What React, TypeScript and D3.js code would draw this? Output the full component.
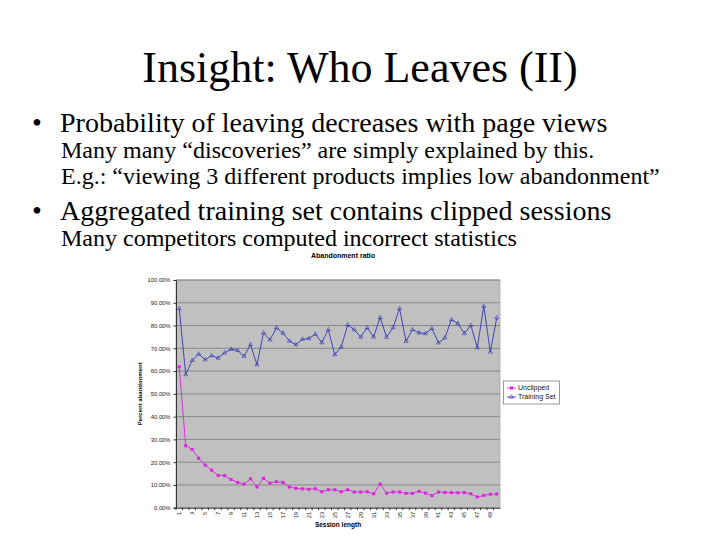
import React, { useRef, useEffect } from 'react';
import * as d3 from 'd3';

// Session lengths (x categories)
const sessionLengths = [
  1, 2, 3, 4, 5, 6, 7, 8, 9, 10, 11, 12, 13, 14, 15, 16, 17, 18, 19, 20, 21, 22, 23, 24, 25,
  26, 27, 28, 29, 30, 31, 32, 33, 34, 35, 36, 37, 38, 39, 40, 41, 42, 43, 44, 45, 46, 47, 48, 49, 50,
];

// Percent abandonment
const unclipped = [
  61.9, 27.2, 25.6, 21.7, 18.7, 16.5, 14.2, 14.1, 12.4, 11.1,
  10.4, 12.7, 9.1, 12.9, 10.8, 11.4, 11.1, 9.1, 8.5, 8.3,
  8.1, 8.3, 7.0, 7.9, 7.9, 7.0, 7.9, 6.9, 6.9, 7.0,
  6.1, 10.4, 6.4, 6.9, 6.9, 6.3, 6.3, 7.2, 6.4, 5.3,
  6.9, 6.7, 6.6, 6.6, 6.6, 6.1, 4.7, 5.4, 5.9, 6.0,
];

const trainingSet = [
  87.5, 58.5, 64.7, 67.5, 65.0, 66.8, 65.7, 68.0, 69.6, 69.1,
  66.5, 71.6, 62.8, 76.8, 73.7, 79.0, 76.7, 73.2, 71.6, 74.0,
  74.3, 76.2, 72.5, 78.2, 67.2, 70.6, 80.3, 78.2, 74.9, 79.0,
  75.0, 83.5, 74.9, 79.1, 87.5, 73.1, 78.2, 76.8, 76.5, 78.7,
  72.4, 74.6, 82.6, 80.9, 76.5, 80.1, 70.3, 88.5, 68.4, 83.4,
];

const yTicks = [0, 10, 20, 30, 40, 50, 60, 70, 80, 90, 100];
const seriesNames = ['Unclipped', 'Training Set'];

const bullets = [
  { level: 1, y: 132, text: 'Probability of leaving decreases with page views' },
  { level: 2, y: 158, text: 'Many many \u201cdiscoveries\u201d are simply explained by this.' },
  { level: 2, y: 184, text: 'E.g.: \u201cviewing 3 different products implies low abandonment\u201d' },
  { level: 1, y: 220, text: 'Aggregated training set contains clipped sessions' },
  { level: 2, y: 246, text: 'Many competitors computed incorrect statistics' },
];

export default function App() {
  const svgRef = useRef<SVGSVGElement>(null);

  useEffect(() => {
    if (!svgRef.current) return;
    const svg = d3.select(svgRef.current);
    svg.selectAll('*').remove();

    const serif = '"Liberation Serif", "Times New Roman", serif';
    const sans = '"Liberation Sans", Arial, sans-serif';

    svg.append('rect').attr('width', 720).attr('height', 540).attr('fill', 'white');

    // Slide title
    svg.append('text')
      .attr('x', 360)
      .attr('y', 82)
      .attr('text-anchor', 'middle')
      .attr('font-family', serif)
      .attr('font-size', '44px')
      .text('Insight: Who Leaves (II)');

    // Bullets
    bullets.forEach((b) => {
      if (b.level === 1) {
        svg.append('text')
          .attr('x', 32)
          .attr('y', b.y)
          .attr('font-family', serif)
          .attr('font-size', '28px')
          .text('\u2022');
        svg.append('text')
          .attr('x', 60)
          .attr('y', b.y)
          .attr('font-family', serif)
          .attr('font-size', '28px')
          .text(b.text);
      } else {
        svg.append('text')
          .attr('x', 61)
          .attr('y', b.y)
          .attr('font-family', serif)
          .attr('font-size', '24px')
          .text(b.text);
      }
    });

    // Chart
    const plot = { left: 176, right: 500, top: 280, bottom: 507.7 };

    const x = d3.scaleBand<number>()
      .domain(sessionLengths)
      .range([plot.left, plot.right]);
    const y = d3.scaleLinear().domain([0, 100]).range([plot.bottom, plot.top]);
    const cx = (d: number) => (x(d) as number) + x.bandwidth() / 2;

    svg.append('text')
      .attr('x', 343)
      .attr('y', 258)
      .attr('text-anchor', 'middle')
      .attr('font-family', sans)
      .attr('font-weight', 'bold')
      .attr('font-size', '7px')
      .text('Abandonment ratio');

    svg.append('rect')
      .attr('x', plot.left)
      .attr('y', plot.top)
      .attr('width', plot.right - plot.left)
      .attr('height', plot.bottom - plot.top)
      .attr('fill', '#c0c0c0')
      .attr('stroke', '#a8a8a8')
      .attr('stroke-width', 0.8);

    // Gridlines
    svg.append('g')
      .selectAll('line')
      .data(yTicks.filter((t) => t > 0))
      .join('line')
      .attr('x1', plot.left)
      .attr('x2', plot.right)
      .attr('y1', (d) => y(d))
      .attr('y2', (d) => y(d))
      .attr('stroke', '#7a7a7a')
      .attr('stroke-width', 0.8);

    // Y axis
    const yAxis = svg.append('g')
      .attr('transform', `translate(${plot.left}, 0)`)
      .call(d3.axisLeft(y).tickValues(yTicks).tickSize(2.5).tickPadding(3)
        .tickFormat((d) => `${(+d).toFixed(2)}%`));
    yAxis.select('.domain').attr('stroke', '#333');
    yAxis.selectAll('line').attr('stroke', '#333');
    yAxis.selectAll('text')
      .attr('font-family', sans)
      .attr('font-size', '5.8px')
      .attr('fill', '#222');

    // X axis
    const xAxis = svg.append('g')
      .attr('transform', `translate(0, ${plot.bottom})`)
      .call(d3.axisBottom(x).tickSize(0).tickPadding(3)
        .tickFormat((d) => ((+d) % 2 === 1 ? `${d}` : '')));
    xAxis.select('.domain').attr('stroke', '#333');
    xAxis.selectAll('text')
      .attr('font-family', sans)
      .attr('font-size', '5.8px')
      .attr('fill', '#222')
      .attr('text-anchor', 'end')
      .attr('dy', '0.35em')
      .attr('transform', 'translate(0, 3) rotate(-90)')
      .attr('y', 0)
      .attr('x', -1);
    // category boundary ticks
    xAxis.append('g')
      .selectAll('line')
      .data(sessionLengths)
      .join('line')
      .attr('x1', (d) => x(d) as number)
      .attr('x2', (d) => x(d) as number)
      .attr('y1', 0)
      .attr('y2', 2.5)
      .attr('stroke', '#333');

    svg.append('text')
      .attr('x', 338)
      .attr('y', 527)
      .attr('text-anchor', 'middle')
      .attr('font-family', sans)
      .attr('font-weight', 'bold')
      .attr('font-size', '6.5px')
      .text('Session length');

    svg.append('text')
      .attr('transform', `translate(142, ${(plot.top + plot.bottom) / 2}) rotate(-90)`)
      .attr('text-anchor', 'middle')
      .attr('font-family', sans)
      .attr('font-weight', 'bold')
      .attr('font-size', '6px')
      .text('Percent abandonment');

    // Series
    const line = d3.line<number>()
      .x((_, i) => cx(sessionLengths[i]))
      .y((d) => y(d));

    const pink = '#e020e0';
    const blue = '#3535b5';

    svg.append('path')
      .datum(trainingSet)
      .attr('d', line)
      .attr('fill', 'none')
      .attr('stroke', blue)
      .attr('stroke-width', 0.9);

    const tri = d3.symbol().type(d3.symbolTriangle).size(7);
    svg.append('g')
      .selectAll('path')
      .data(trainingSet)
      .join('path')
      .attr('d', tri)
      .attr('transform', (d, i) => `translate(${cx(sessionLengths[i])}, ${y(d)})`)
      .attr('fill', 'none')
      .attr('stroke', blue)
      .attr('stroke-width', 0.6);

    svg.append('path')
      .datum(unclipped)
      .attr('d', line)
      .attr('fill', 'none')
      .attr('stroke', pink)
      .attr('stroke-width', 0.9);

    svg.append('g')
      .selectAll('rect')
      .data(unclipped)
      .join('rect')
      .attr('x', (d, i) => cx(sessionLengths[i]) - 1.5)
      .attr('y', (d) => y(d) - 1.5)
      .attr('width', 3)
      .attr('height', 3)
      .attr('fill', pink);

    // Legend
    const lg = { x: 503.5, y: 381, w: 56, h: 23 };
    const defs = svg.append('defs');
    defs.append('clipPath').attr('id', 'legend-clip')
      .append('rect').attr('x', lg.x).attr('y', lg.y).attr('width', lg.w - 1).attr('height', lg.h);

    const legendG = svg.append('g');
    legendG.append('rect')
      .attr('x', lg.x)
      .attr('y', lg.y)
      .attr('width', lg.w)
      .attr('height', lg.h)
      .attr('fill', 'white')
      .attr('stroke', '#555')
      .attr('stroke-width', 0.6);

    const legendRows = legendG.append('g').attr('clip-path', 'url(#legend-clip)');
    seriesNames.forEach((name, i) => {
      const ly = 388 + i * 9;
      const color = i === 0 ? pink : blue;
      legendRows.append('line')
        .attr('x1', 507).attr('x2', 516)
        .attr('y1', ly).attr('y2', ly)
        .attr('stroke', color).attr('stroke-width', 0.9);
      if (i === 0) {
        legendRows.append('rect')
          .attr('x', 510).attr('y', ly - 1.5).attr('width', 3).attr('height', 3)
          .attr('fill', pink);
      } else {
        legendRows.append('path')
          .attr('d', tri)
          .attr('transform', `translate(511.5, ${ly})`)
          .attr('fill', 'none')
          .attr('stroke', blue)
          .attr('stroke-width', 0.6);
      }
      legendRows.append('text')
        .attr('x', 518)
        .attr('y', ly)
        .attr('dy', '0.35em')
        .attr('font-family', sans)
        .attr('font-size', '7px')
        .attr('fill', '#111')
        .text(name);
    });
  }, []);

  return (
    <svg
      ref={svgRef}
      width={720}
      height={540}
      style={{ position: 'absolute', top: 0, left: 0, display: 'block' }}
    />
  );
}
